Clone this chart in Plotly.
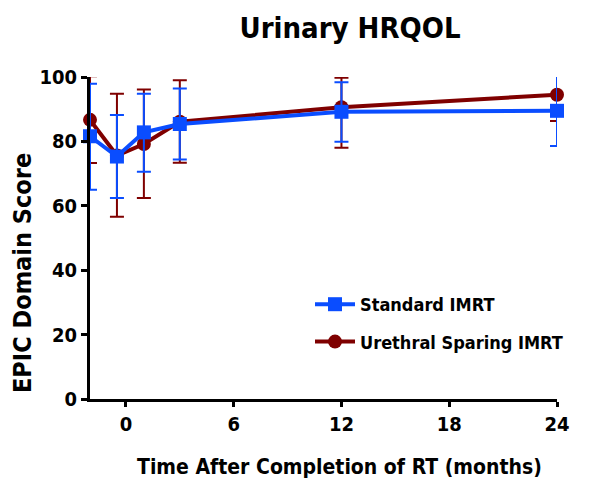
import plotly.graph_objects as go

months = [-2, -0.5, 1, 3, 12, 24]

std_mean = [81.6, 75.3, 82.8, 85.4, 89.2, 89.5]
std_upper = [97.9, 88.2, 94.8, 96.4, 98.4, 100.5]
std_lower = [65.0, 62.4, 70.6, 74.4, 79.9, 78.6]

ure_mean = [86.7, 75.6, 79.2, 86.1, 90.6, 94.5]
ure_upper = [100.2, 94.8, 96.1, 99.0, 99.8, 102.7]
ure_lower = [73.3, 56.6, 62.4, 73.4, 78.0, 86.3]

x_ticks = [0, 6, 12, 18, 24]
y_ticks = [0, 20, 40, 60, 80, 100]

BLUE = "#0a4dff"
RED = "#7f0000"
FONT = "DejaVu Sans Condensed, Liberation Sans Narrow, Roboto, sans-serif"

# page offset (body margin) = 8px; plot area in page: x 90..557, y 77..399
W, H = 592, 480
L, R, T, B = 82, 43, 69, 89
PW, PH = W - L - R, H - T - B


def px_to_paper_x(px):
    return (px - 8 - L) / PW


def px_to_paper_y(py):
    return 1 - (py - 8 - T) / PH


def add_series(fig, name, mean, upper, lower, color, symbol, rank):
    # error bars (clipped to the plot area)
    fig.add_trace(go.Scatter(
        x=months, y=mean, mode="markers", showlegend=False, hoverinfo="skip",
        marker=dict(size=1, color="rgba(0,0,0,0)"),
        error_y=dict(type="data", symmetric=False,
                     array=[u - m for u, m in zip(upper, mean)],
                     arrayminus=[m - l for l, m in zip(lower, mean)],
                     color=color, thickness=2, width=7),
        cliponaxis=True,
    ))
    # line and markers (not clipped)
    fig.add_trace(go.Scatter(
        x=months, y=mean, name=name, legendgroup=name, legendrank=rank,
        mode="lines+markers",
        line=dict(color=color, width=4),
        marker=dict(symbol=symbol, size=14, color=color),
        cliponaxis=False,
    ))


fig = go.Figure()
add_series(fig, "<b>Urethral Sparing IMRT</b>", ure_mean, ure_upper, ure_lower,
           RED, "circle", 2)
add_series(fig, "<b>Standard IMRT</b>", std_mean, std_upper, std_lower,
           BLUE, "square", 1)

fig.update_layout(
    width=W, height=H,
    margin=dict(l=L, r=R, t=T, b=B),
    paper_bgcolor="white", plot_bgcolor="white",
    font=dict(family=FONT, color="black", size=18),
    title=dict(text="<b>Urinary HRQOL</b>", x=(350 - 8) / W, xanchor="center",
               y=1 - (28 - 8) / H, yanchor="middle",
               font=dict(family=FONT, size=29, color="black")),
    showlegend=True,
    legend=dict(x=px_to_paper_x(310), y=px_to_paper_y(286),
                xanchor="left", yanchor="top",
                traceorder="grouped", tracegroupgap=11,
                bgcolor="rgba(0,0,0,0)",
                font=dict(family=FONT, size=18, color="black"),
                itemwidth=40),
    xaxis=dict(range=[-2, 24], tickvals=x_ticks,
               ticktext=[f"<b>{t}</b>" for t in x_ticks],
               showgrid=False, zeroline=False,
               showline=True, linecolor="black", linewidth=3,
               ticks="outside", ticklen=5, tickwidth=3, tickcolor="black",
               tickfont=dict(family=FONT, size=20)),
    yaxis=dict(range=[0, 100], tickvals=y_ticks,
               ticktext=[f"<b>{t}</b>" for t in y_ticks],
               showgrid=False, zeroline=False,
               showline=True, linecolor="black", linewidth=3,
               ticks="outside", ticklen=6, tickwidth=3, tickcolor="black",
               tickfont=dict(family=FONT, size=20)),
    annotations=[
        dict(text="<b>Time After Completion of RT (months)</b>",
             xref="paper", yref="paper",
             x=px_to_paper_x(339), y=px_to_paper_y(467),
             xanchor="center", yanchor="middle", showarrow=False,
             font=dict(family=FONT, size=21, color="black")),
        dict(text="<b>EPIC Domain Score</b>",
             xref="paper", yref="paper", textangle=-90,
             x=px_to_paper_x(22), y=px_to_paper_y(273),
             xanchor="center", yanchor="middle", showarrow=False,
             font=dict(family=FONT, size=25, color="black")),
    ],
)

fig.write_html("out.html")
